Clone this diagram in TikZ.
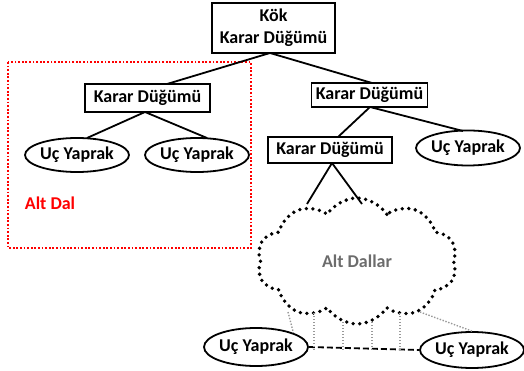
\documentclass[tikz,border=0pt]{standalone}
\usepackage{fontspec}
\setmainfont{Carlito}
\usetikzlibrary{shapes.geometric,shapes.symbols}
\begin{document}
\begin{tikzpicture}[x=1pt,y=-1pt,
  every node/.style={font=\fontsize{18}{22}\selectfont\bfseries, inner sep=0pt},
  decbox/.style={draw, line width=1.8pt, rectangle, align=center},
  leaf/.style={draw, line width=1.8pt, ellipse},
  link/.style={line width=1.8pt},
  thin dots/.style={gray!80, line width=1.4pt, dash pattern=on 1.4pt off 1.6pt},
  cloud dots/.style={draw, line width=3.8pt, line cap=round, dash pattern=on 0pt off 6.6pt}]
\useasboundingbox (0,0) rectangle (524,371);

% sub-branch frame
\draw[red, line width=1.8pt, dash pattern=on 1.8pt off 1.8pt] (8,62) rectangle (251,248);
\node[red] (altdal) at (50,203) {Alt Dal};

% decision nodes
\node[decbox, minimum width=123pt, minimum height=50pt] (root) at (273.5,28) {Kök\\Karar Düğümü};
\node[decbox, minimum width=125pt, minimum height=28pt] (dl) at (147.5,98) {Karar Düğümü};
\node[decbox, minimum width=116pt, minimum height=24pt] (dr) at (369.5,95) {Karar Düğümü};
\node[decbox, minimum width=124pt, minimum height=26pt] (drl) at (330,150) {Karar Düğümü};

% leaves
\node[leaf, minimum width=100pt, minimum height=34pt] (l1) at (77,155) {Uç Yaprak};
\node[leaf, minimum width=100pt, minimum height=34pt] (l2) at (197,155) {Uç Yaprak};
\node[leaf, minimum width=90pt, minimum height=35pt] (l3) at (468,148) {Uç Yaprak};
\node[leaf, minimum width=98pt, minimum height=38pt] (l4) at (256,347) {Uç Yaprak};
\node[leaf, minimum width=99pt, minimum height=36pt] (l5) at (472,350) {Uç Yaprak};

% remaining sub-branches
\node[cloud, cloud puffs=10, cloud puff arc=115, aspect=1.55, cloud dots,
      minimum width=200pt, minimum height=126pt, text=gray!85!black] (cl) at (357,261) {Alt Dallar};

% tree edges
\coordinate (rootfoot) at (270,53);
\draw[link] (rootfoot) -- (167,84);
\draw[link] (rootfoot) -- (372,83);
\coordinate (dlfoot) at (145,112);
\draw[link] (dlfoot) -- (87,138);
\draw[link] (dlfoot) -- (207,138);
\coordinate (drfoot) at (370,107);
\draw[link] (drfoot) -- (338,137);
\draw[link] (drfoot) -- (463,131);
\coordinate (drlfoot) at (332,163);
\coordinate (clL) at (307,204);
\coordinate (clR) at (362,204);
\draw[link] (drlfoot) -- (clL);
\draw[link] (drlfoot) -- (clR);

% leaves of the hidden branches
\draw[line width=1.8pt, dash pattern=on 6pt off 3pt] (l4.east) -- (l5.west);
\coordinate (c1) at (288,312);
\coordinate (c2) at (420,312);
\draw[thin dots] (c1) -- (l4.north east);
\draw[thin dots] (c2) -- (l5.north);
\foreach \xx/\yy in {314/313, 343/322, 372/322, 400/313}{
  \draw[thin dots] (\xx,\yy) -- (\xx,350);
}
\end{tikzpicture}
\end{document}
